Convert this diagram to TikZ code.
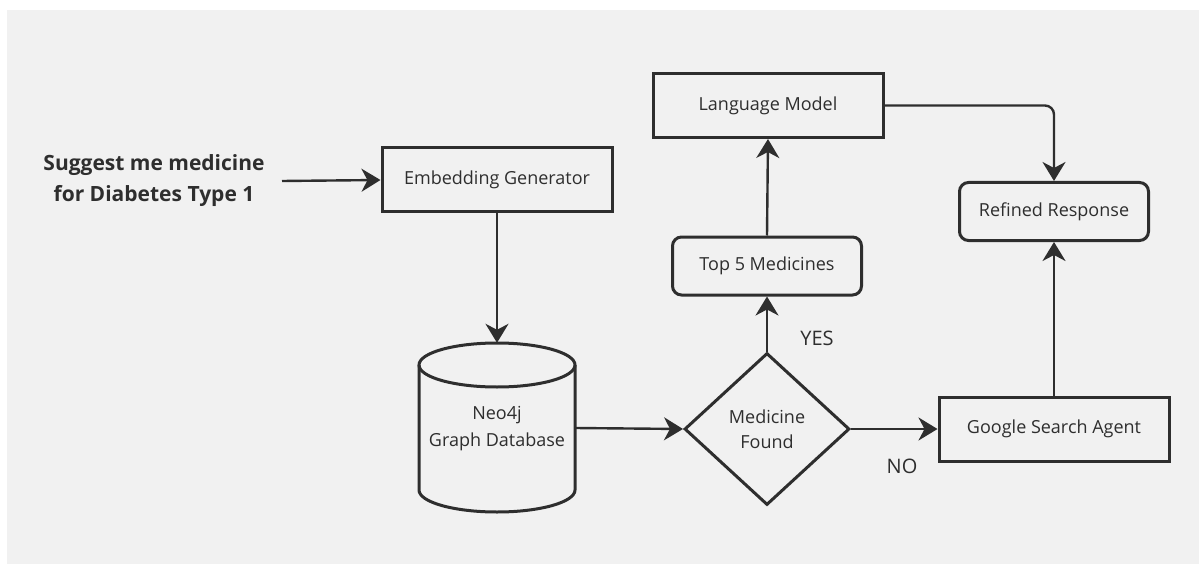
\documentclass[tikz,border=0pt]{standalone}
\usepackage{fontspec}
\setmainfont{Open Sans}
\usetikzlibrary{arrows.meta,shapes.geometric}
\definecolor{ink}{HTML}{2E2E2E}
\definecolor{panel}{HTML}{F1F1F1}
\tikzset{
  lbl/.style={font=\fontsize{18}{24}\selectfont, text=ink},
  sqbox/.style={draw=ink, line width=3pt, fill=panel, minimum width=230pt, minimum height=64pt, inner sep=0pt, lbl},
  rbox/.style={draw=ink, line width=3pt, fill=panel, rounded corners=9pt, minimum width=189pt, minimum height=58pt, inner sep=0pt, lbl},
  arr/.style={draw=ink, line width=2.4pt, -{Stealth[length=19pt,width=23pt,inset=6pt]}},
  ylabel/.style={font=\fontsize{20}{24}\selectfont, text=ink},
}
\begin{document}
\begin{tikzpicture}[x=1pt,y=-1pt]
\useasboundingbox (0,0) rectangle (1199,564);
\fill[white] (0,0) rectangle (1199,564);
\fill[panel] (7,10) rectangle (1199,564);

% input text
\node[font=\bfseries\fontsize{21}{31}\selectfont, text=ink, align=center] (q) at (154,181) {Suggest me medicine\\for Diabetes Type 1};
\coordinate (qout) at (282,181);

\node[sqbox] (emb) at (497,180) {Embedding Generator};

% cylinder
\node[minimum width=156pt, minimum height=169pt, inner sep=0pt] (db) at (497,427.5) {};
\fill[panel] (419,365) -- (419,490) arc[start angle=180, end angle=360, x radius=78, y radius=-22] -- (575,365) arc[start angle=0, end angle=180, x radius=78, y radius=-22] -- cycle;
\draw[ink, line width=3pt] (497,365) ellipse [x radius=78, y radius=22];
\draw[ink, line width=3pt] (419,365) -- (419,490) arc[start angle=180, end angle=360, x radius=78, y radius=-22] -- (575,365);
\node[lbl, align=center, font=\fontsize{18}{27}\selectfont] (dbt) at (497,429) {Neo4j\\Graph Database};
\coordinate (dbr) at (575,428);

\node[diamond, draw=ink, line width=3pt, fill=panel, aspect=1.085, minimum width=165pt, minimum height=152pt, inner sep=0pt, align=center, lbl, font=\fontsize{18}{25}\selectfont] (dec) at (767,429) {Medicine\\Found};

\node[rbox] (top) at (767,266) {Top 5 Medicines};
\node[sqbox] (lm) at (768,105.5) {Language Model};
\node[rbox] (rr) at (1054,211.5) {Refined Response};
\node[sqbox] (gsa) at (1054,429) {Google Search Agent};

\node[ylabel] (yes) at (817,338) {YES};
\node[ylabel] (no) at (902,466) {NO};

\draw[arr] (qout) -- (emb.west);
\draw[arr] (emb.south) -- (db.north);
\draw[arr] (dbr) -- (dec.west);
\draw[arr] (dec.north) -- (top.south);
\draw[arr] (top.north) -- (lm.south);
\draw[arr, rounded corners=9pt] (lm.east) -| (rr.north);
\draw[arr] (dec.east) -- (gsa.west);
\draw[arr] (gsa.north) -- (rr.south);
\end{tikzpicture}
\end{document}
